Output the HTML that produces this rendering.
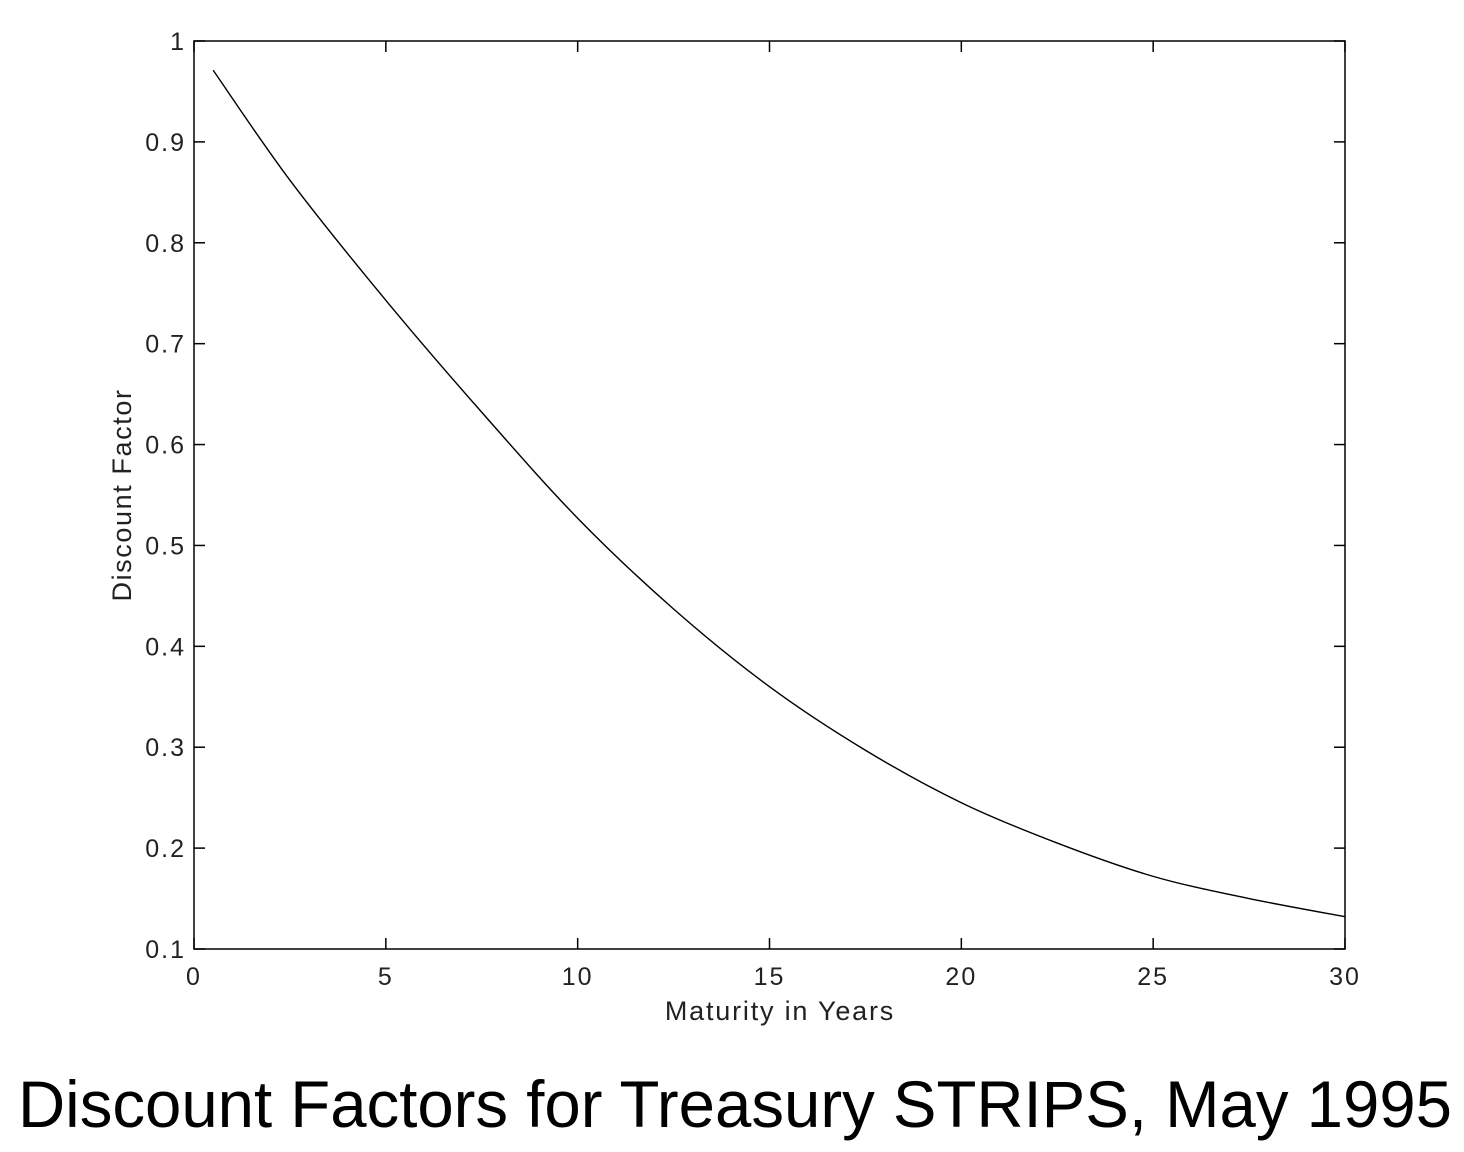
<!DOCTYPE html>
<html><head><meta charset="utf-8"><style>
html,body{margin:0;padding:0;background:#fff;}
body{width:1464px;height:1152px;overflow:hidden;position:relative;font-family:"Liberation Sans",sans-serif;}
</style></head><body>
<svg id="chart" width="1464" height="1152" style="position:absolute;left:0;top:0" xmlns="http://www.w3.org/2000/svg">
<text x="18" y="1127" font-size="66" font-family="Liberation Sans, sans-serif" fill="#000" textLength="1434" lengthAdjust="spacingAndGlyphs">Discount Factors for Treasury STRIPS, May 1995</text>
</svg>
<script>
const maturities = [0.5, 2.5, 5, 7.5, 10, 12.5, 15, 17.5, 20, 22.5, 25, 27.5, 30];
const discountFactors = [0.971, 0.862, 0.743, 0.632, 0.527, 0.437, 0.360, 0.297, 0.245, 0.205, 0.172, 0.150, 0.132];
const xTicks = [0, 5, 10, 15, 20, 25, 30];
const yTicks = [0.1, 0.2, 0.3, 0.4, 0.5, 0.6, 0.7, 0.8, 0.9, 1];
const yTickLabels = ["0.1","0.2","0.3","0.4","0.5","0.6","0.7","0.8","0.9","1"];

const L=194, R=1345, T=41, B=949;
const xs = v => L + (v-0)/(30-0)*(R-L);
const ys = v => B - (v-0.1)/(1-0.1)*(B-T);
const svg = document.getElementById('chart');
const NS = 'http://www.w3.org/2000/svg';
function mk(tag, attrs){const e=document.createElementNS(NS,tag);for(const k in attrs)e.setAttribute(k,attrs[k]);svg.appendChild(e);return e;}

const frame = mk('rect',{x:L,y:T,width:R-L,height:B-T,fill:'none',stroke:'#000','stroke-width':1.5});



xTicks.forEach(t=>{
  const x=xs(t);
  const a=mk('line',{x1:x,x2:x,y1:B,y2:B-11,stroke:'#000','stroke-width':1.5});
  
  
  const b=mk('line',{x1:x,x2:x,y1:T,y2:T+11,stroke:'#000','stroke-width':1.5});
  
  
  const tx=mk('text',{x:x,y:B+36,'text-anchor':'middle','font-size':25,'letter-spacing':2,fill:'#222','font-family':'Liberation Sans, sans-serif'});
  tx.textContent=String(t);
  
  
});
yTicks.forEach((t,i)=>{
  const y=ys(t);
  const a=mk('line',{x1:L,x2:L+11,y1:y,y2:y,stroke:'#000','stroke-width':1.5});
  
  
  const b=mk('line',{x1:R,x2:R-11,y1:y,y2:y,stroke:'#000','stroke-width':1.5});
  
  
  const tx=mk('text',{x:L-8,y:y+9,'text-anchor':'end','font-size':25,'letter-spacing':2,fill:'#222','font-family':'Liberation Sans, sans-serif'});
  tx.textContent=yTickLabels[i];
  
  
});
const xl=mk('text',{x:780,y:1020,'text-anchor':'middle','font-size':27,'letter-spacing':1.8,fill:'#222','font-family':'Liberation Sans, sans-serif'});
xl.textContent='Maturity in Years';


const yl=mk('text',{x:0,y:0,'text-anchor':'middle','font-size':27,'letter-spacing':1.6,fill:'#222','font-family':'Liberation Sans, sans-serif',transform:'translate(131,495) rotate(-90)'});
yl.textContent='Discount Factor';



const P = maturities.map((m,i)=>[xs(m), ys(discountFactors[i])]);
let d = `M${P[0][0]},${P[0][1]}`;
for(let i=0;i<P.length-1;i++){
  const p0=P[i-1]||P[i], p1=P[i], p2=P[i+1], p3=P[i+2]||P[i+1];
  const c1=[p1[0]+(p2[0]-p0[0])/6, p1[1]+(p2[1]-p0[1])/6];
  const c2=[p2[0]-(p3[0]-p1[0])/6, p2[1]-(p3[1]-p1[1])/6];
  d+=` C${c1[0]},${c1[1]} ${c2[0]},${c2[1]} ${p2[0]},${p2[1]}`;
}
const line=mk('path',{d:d,fill:'none',stroke:'#000','stroke-width':1.4});


</script>
</body></html>
